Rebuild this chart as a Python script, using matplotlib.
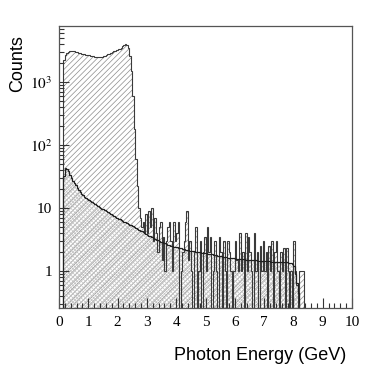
import numpy as np
import matplotlib
matplotlib.use("Agg")
import matplotlib.pyplot as plt
from matplotlib.ticker import FixedLocator, MultipleLocator, NullFormatter, LogLocator

# photon energy bins, 0.05 GeV wide (one row below = 1 GeV)
edges = np.round(np.arange(0, 10.001, 0.05), 3)

# measured counts per bin
data_counts = [
    0, 0, 0, 2200, 2700, 2900, 3000, 3050, 3100, 3100, 3050, 3000, 2950, 2900, 2850, 2800, 2780, 2750, 2720, 2700,
    2650, 2620, 2580, 2550, 2520, 2500, 2480, 2470, 2480, 2500, 2550, 2600, 2680, 2750, 2820, 2900, 2980, 3050, 3120, 3200,
    3280, 3380, 3500, 3650, 3850, 4000, 3900, 3500, 2600, 1500, 600, 180, 60, 22, 10, 7, 5, 6, 4, 8,
    4, 9, 5, 10, 3, 7, 4, 2, 5, 6, 1.5, 3.5, 1, 3, 5, 6, 3, 1, 6, 3,
    4, 6, 0, 1, 2, 3, 6, 9, 1.5, 3, 1, 0, 2, 5, 0, 1, 3, 0, 2, 3.5,
    1, 5, 2, 3.5, 0, 1, 3, 1, 0, 3.5, 2, 0, 3, 1, 0, 3, 2, 1, 0, 1,
    3, 1.5, 1, 4, 1, 2, 0, 4, 1, 3.5, 2, 1, 0, 4, 1, 2, 0, 2.5, 1, 3,
    1, 2, 0, 2.5, 1, 3, 0, 2, 3, 1, 0, 2, 1, 2.3, 0, 2.3, 1, 0, 1, 0,
    3, 1, 0.6, 0, 1, 1, 1, 0, 0, 0, 0, 0, 0, 0, 0, 0, 0, 0, 0, 0,
    0, 0, 0, 0, 0, 0, 0, 0, 0, 0, 0, 0, 0, 0, 0, 0, 0, 0, 0, 0,
]

# simulated spectrum per bin
sim_counts = [
    0, 0, 0, 32, 43, 42, 38, 33, 30, 27, 25, 23, 21, 19.5, 18, 17, 16, 15.2, 14.5, 13.9,
    13.4, 12.9, 12.4, 12.0, 11.6, 11.2, 10.8, 10.5, 10.1, 9.8, 9.5, 9.2, 8.9, 8.6, 8.3, 8.0, 7.75, 7.5, 7.25, 7.0,
    6.8, 6.6, 6.4, 6.2, 6.05, 5.9, 5.75, 5.6, 5.45, 5.3, 5.15, 5.0, 4.85, 4.7, 4.55, 4.4, 4.25, 4.1, 4.0, 3.9,
    3.75, 3.65, 3.55, 3.45, 3.35, 3.25, 3.15, 3.08, 3.0, 2.93, 2.86, 2.8, 2.74, 2.68, 2.62, 2.57, 2.52, 2.48, 2.44, 2.4,
    2.38, 2.35, 2.32, 2.29, 2.26, 2.23, 2.2, 2.17, 2.14, 2.12, 2.1, 2.08, 2.06, 2.04, 2.02, 2.0, 1.98, 1.96, 1.94, 1.93,
    1.92, 1.9, 1.88, 1.86, 1.84, 1.82, 1.8, 1.78, 1.76, 1.74, 1.72, 1.7, 1.68, 1.66, 1.65, 1.64, 1.62, 1.61, 1.6, 1.59,
    1.58, 1.57, 1.56, 1.55, 1.55, 1.54, 1.53, 1.52, 1.52, 1.51, 1.5, 1.5, 1.49, 1.48, 1.48, 1.47, 1.46, 1.46, 1.45, 1.45,
    1.44, 1.44, 1.43, 1.43, 1.42, 1.42, 1.41, 1.41, 1.4, 1.4, 1.39, 1.39, 1.38, 1.38, 1.37, 1.37, 1.36, 1.35, 1.34, 1.3,
    1.2, 0.9, 0.65, 0.45, 0, 0, 0, 0, 0, 0, 0, 0, 0, 0, 0, 0, 0, 0, 0, 0,
    0, 0, 0, 0, 0, 0, 0, 0, 0, 0, 0, 0, 0, 0, 0, 0, 0, 0, 0, 0,
]

ytick_vals = [1, 10, 100, 1000]
ytick_labels = ["1", "10", r"$10^{2}$", r"$10^{3}$"]

plt.rcParams["mathtext.fontset"] = "stix"
plt.rcParams["hatch.linewidth"] = 0.5

fig = plt.figure(figsize=(3.82, 3.68), dpi=100)
ax = fig.add_axes([59 / 382, 1 - 308 / 368, 293 / 382, 282 / 368])

floor = 1e-3
d = np.where(np.array(data_counts) > 0, data_counts, floor)
s = np.where(np.array(sim_counts) > 0, sim_counts, floor)

# data: diagonal hatch
ax.stairs(d, edges, baseline=floor, fill=True, facecolor="none",
          edgecolor="#8c8c8c", hatch="//////", linewidth=0)
# simulation: fine cross hatch
ax.stairs(s, edges, baseline=floor, fill=True, facecolor="none",
          edgecolor="#c4c4c4", hatch="xxxxxxxx", linewidth=0)
ax.stairs(d, edges, baseline=floor, color="#3a3a3a", linewidth=0.8)
ax.stairs(s, edges, baseline=floor, color="#202020", linewidth=0.9)

ax.set_yscale("log")
ax.set_xlim(0, 10)
ax.set_ylim(0.26, 7700)

ax.xaxis.set_major_locator(MultipleLocator(1))
ax.xaxis.set_minor_locator(MultipleLocator(0.2))
ax.yaxis.set_major_locator(FixedLocator(ytick_vals))
ax.set_yticklabels(ytick_labels)
ax.yaxis.set_minor_locator(LogLocator(base=10, subs=np.arange(2, 10)))
ax.yaxis.set_minor_formatter(NullFormatter())

ax.tick_params(which="both", direction="in", top=False, right=False,
               colors="#333333", labelcolor="black")
ax.tick_params(which="major", length=7, width=0.8)
ax.tick_params(which="minor", length=3.5, width=0.8)
ax.tick_params(axis="x", pad=6)
ax.tick_params(axis="y", pad=5)
for lab in ax.get_xticklabels() + ax.get_yticklabels():
    lab.set_family("Liberation Serif")
    lab.set_fontsize(11)
for sp in ax.spines.values():
    sp.set_color("#555555")
    sp.set_linewidth(0.9)

fig.text(18 / 382, 1 - 64 / 368, "Counts", rotation=90, ha="center",
         va="center", family="Liberation Sans", fontsize=13)
fig.text(346 / 382, 1 - 355 / 368, "Photon Energy (GeV)", ha="right",
         va="center", family="Liberation Sans", fontsize=13)

fig.savefig("out.png", dpi=100)
